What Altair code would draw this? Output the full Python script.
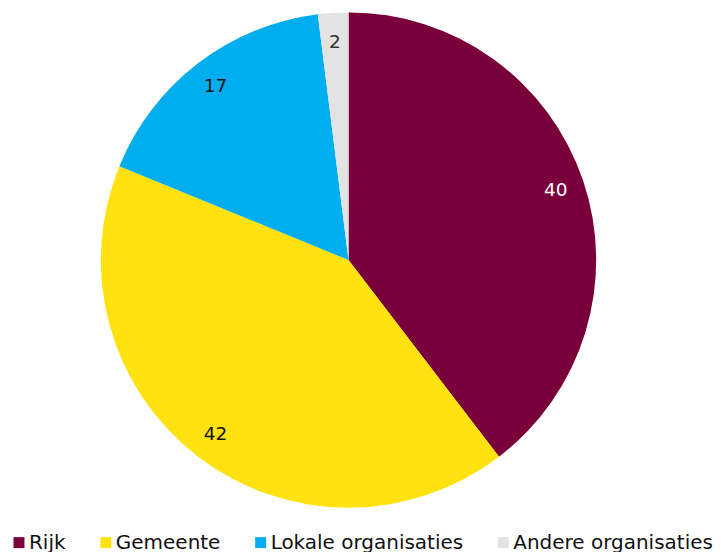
import altair as alt
import pandas as pd

categories = ["Rijk", "Gemeente", "Lokale organisaties", "Andere organisaties"]
values = [40, 42, 17, 2]
colors = ["#7a003c", "#ffe20f", "#00aeef", "#e3e3e3"]
label_colors = ["#ffffff", "#111111", "#111111", "#333333"]

df = pd.DataFrame({
    "cat": categories,
    "val": values,
    "ord": list(range(len(categories))),
    "tcol": label_colors,
})

base = alt.Chart(df).encode(
    theta=alt.Theta("val:Q", stack=True),
    order=alt.Order("ord:Q"),
)

arcs = base.mark_arc(outerRadius=248).encode(
    x=alt.value(341),
    y=alt.value(252),
    color=alt.Color(
        "cat:N",
        scale=alt.Scale(domain=categories, range=colors),
        legend=alt.Legend(
            title=None,
            orient="none",
            direction="horizontal",
            legendX=1,
            legendY=525,
            symbolType="square",
            symbolSize=121,
            symbolStrokeWidth=0,
            labelFont="DejaVu Sans",
            labelFontSize=20,
            labelColor="#111111",
            labelOffset=0,
            labelLimit=0,
            columnPadding=30,
        ),
    ),
)

labels = base.mark_text(radius=219, font="DejaVu Sans", fontSize=18.5).encode(
    x=alt.value(341),
    y=alt.value(252),
    text=alt.Text("val:Q"),
    color=alt.Color("tcol:N", scale=None),
)

chart = (arcs + labels).properties(
    width=705, height=536, padding=0
).configure_view(stroke=None)

chart.save("out.html", embed_options={"renderer": "svg", "actions": False})
